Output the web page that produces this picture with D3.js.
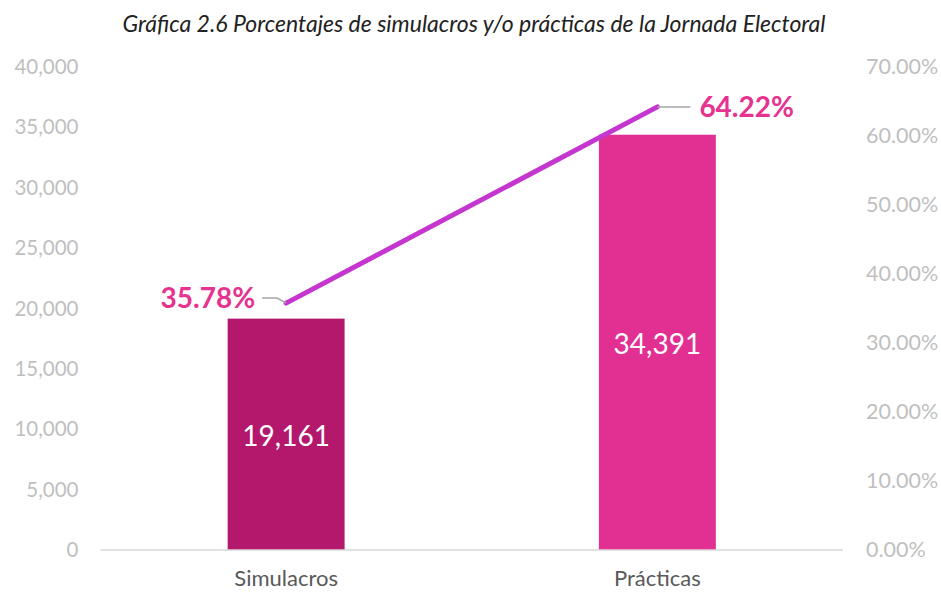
<!DOCTYPE html>
<html><head><meta charset="utf-8">
<script src="https://cdn.jsdelivr.net/npm/d3@7"></script>
<style>body{margin:0;background:#fff}svg{display:block}</style>
</head><body>
<script>
const categories = ["Simulacros", "Prácticas"];
const counts = [19161, 34391];
const percents = [0.3578, 0.6422];
const percentLabels = ["35.78%", "64.22%"];
const countLabels = ["19,161", "34,391"];
const leftTicks = [0,5000,10000,15000,20000,25000,30000,35000,40000];
const rightTicks = [0,0.1,0.2,0.3,0.4,0.5,0.6,0.7];
const barColors = ["#B3186D", "#E22F92"];
const title = "Gráfica 2.6 Porcentajes de simulacros y/o prácticas de la Jornada Electoral";

const W = 941, H = 592;
const m = {left:100.5, right:98, top:67, bottom:42};
const font = "Lato, 'Open Sans', sans-serif";
const svg = d3.select("body").append("svg").attr("width",W).attr("height",H);

const x = d3.scaleBand().domain(categories).range([m.left, W-m.right]).padding(0);
const yL = d3.scaleLinear().domain([0,40000]).range([H-m.bottom, m.top]);
const yR = d3.scaleLinear().domain([0,0.7]).range([H-m.bottom, m.top]);
const barW = x.bandwidth()*0.315;

svg.append("text").attr("x", 474).attr("y", 32).attr("text-anchor","middle")
  .attr("font-family", font).attr("font-style","italic").attr("font-size",23).attr("fill","#222")
  .text(title);

// left axis
const gL = svg.append("g").attr("transform",`translate(${m.left},0)`)
  .call(d3.axisLeft(yL).tickValues(leftTicks).tickFormat(d3.format(",")).tickSize(0).tickPadding(22));
gL.select(".domain").remove();
gL.selectAll("text").attr("font-family",font).attr("font-size",20.5).attr("fill","#BFBFBF");

// right axis
const gR = svg.append("g").attr("transform",`translate(${W-m.right},0)`)
  .call(d3.axisRight(yR).tickValues(rightTicks).tickFormat(d3.format(".2%")).tickSize(0).tickPadding(23));
gR.select(".domain").remove();
gR.selectAll("text").attr("font-family",font).attr("font-size",21.5).attr("fill","#BFBFBF");

// bars
svg.selectAll("rect.bar").data(categories).join("rect").attr("class","bar")
  .attr("x", d => x(d)+x.bandwidth()/2-barW/2)
  .attr("width", barW)
  .attr("y", (d,i)=> yL(counts[i]))
  .attr("height", (d,i)=> yL(0)-yL(counts[i]))
  .attr("fill", (d,i)=> barColors[i]);

// baseline
svg.append("line").attr("x1",m.left).attr("x2",W-m.right).attr("y1",yL(0)).attr("y2",yL(0))
  .attr("stroke","#D9D9D9").attr("stroke-width",1.5);

// bottom axis labels
const gB = svg.append("g").attr("transform",`translate(0,${H-m.bottom})`)
  .call(d3.axisBottom(x).tickSize(0).tickPadding(20));
gB.select(".domain").remove();
gB.selectAll("text").attr("font-family",font).attr("font-size",22).attr("fill","#595959");

// value labels inside bars
svg.selectAll("text.val").data(categories).join("text").attr("class","val")
  .attr("x", d => x(d)+x.bandwidth()/2)
  .attr("y", (d,i)=> (yL(counts[i])+yL(0))/2 + 2)
  .attr("dy","0.35em").attr("text-anchor","middle")
  .attr("font-family",font).attr("font-size",28).attr("fill","#fff")
  .text((d,i)=> countLabels[i]);

// line
const pts = categories.map((d,i)=> [x(d)+x.bandwidth()/2, yR(percents[i])]);
svg.append("path").attr("d", d3.line()(pts)).attr("fill","none")
  .attr("stroke","#C535CF").attr("stroke-width",5).attr("stroke-linecap","round");

// leader lines + percent labels
const p0 = pts[0], p1 = pts[1];
svg.append("path").attr("d", `M${p0[0]},${p0[1]} L${p0[0]-9},${p0[1]-5} L${p0[0]-24},${p0[1]-5}`)
  .attr("fill","none").attr("stroke","#A6A6A6").attr("stroke-width",1.5);
svg.append("path").attr("d", `M${p1[0]},${p1[1]} L${p1[0]+33},${p1[1]}`)
  .attr("fill","none").attr("stroke","#A6A6A6").attr("stroke-width",1.5);

svg.append("text").attr("x", p0[0]-31).attr("y", p0[1]-5).attr("dy","0.35em")
  .attr("text-anchor","end").attr("font-family",font).attr("font-weight","bold")
  .attr("font-size",28).attr("fill","#E6338F").text(percentLabels[0]);
svg.append("text").attr("x", p1[0]+42).attr("y", p1[1]).attr("dy","0.35em")
  .attr("text-anchor","start").attr("font-family",font).attr("font-weight","bold")
  .attr("font-size",28).attr("fill","#E6338F").text(percentLabels[1]);
</script>
</body></html>
